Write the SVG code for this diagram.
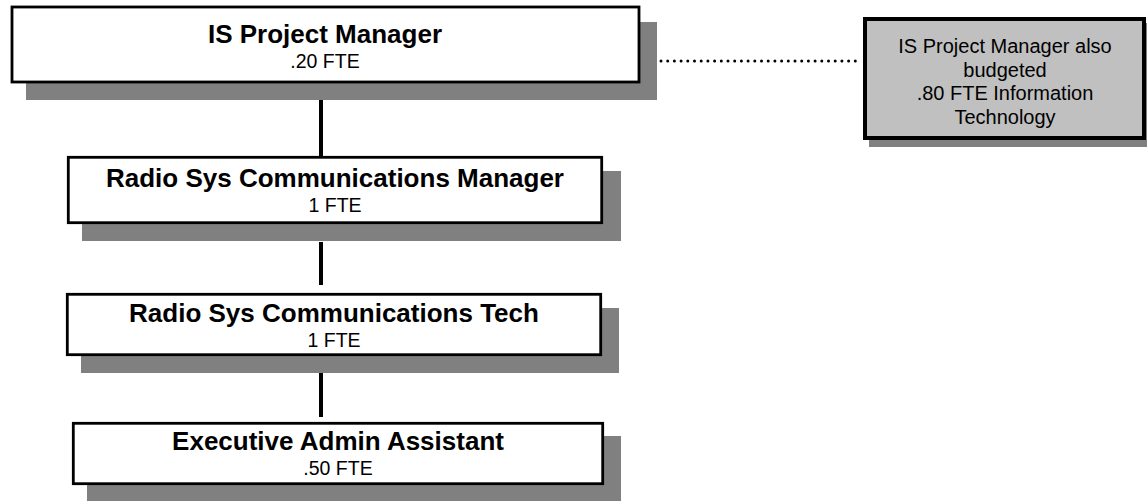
<svg xmlns="http://www.w3.org/2000/svg" width="1147" height="501" viewBox="0 0 1147 501">
<style>
.shadow{fill:#808080;stroke:none}
.box{fill:#ffffff;stroke:#000000;stroke-width:2.8}
.note{fill:#c0c0c0;stroke:#000000;stroke-width:4}
.title{font-family:"Liberation Sans",Arial,sans-serif;font-weight:bold;font-size:26px;fill:#000;text-anchor:middle}
.sub{font-family:"Liberation Sans",Arial,sans-serif;font-size:19.5px;fill:#000;text-anchor:middle}
.ntext{font-family:"Liberation Sans",Arial,sans-serif;font-size:20px;fill:#000;text-anchor:middle}
.conn{stroke:#000;stroke-width:4;fill:none}
.dot{stroke:#000;stroke-width:3;fill:none;stroke-linecap:round;stroke-dasharray:0 6.7}
</style>
<rect width="1147" height="501" fill="#ffffff"/>
<g id="connectors">
<line class="conn" x1="321" y1="100" x2="321" y2="156"/>
<line class="conn" x1="321" y1="242" x2="321" y2="285"/>
<line class="conn" x1="321" y1="373" x2="321" y2="417"/>
<line class="dot" x1="661" y1="61" x2="861" y2="61"/>
</g>
<g id="is-project-manager">
<rect class="shadow" x="26" y="22" width="631" height="78"/>
<rect class="box" x="12" y="7" width="627" height="75"/>
<text class="title" x="325" y="43">IS Project Manager</text>
<text class="sub" x="325" y="68">.20 FTE</text>
</g>
<g id="note">
<rect class="shadow" x="869" y="23" width="282" height="124"/>
<rect class="note" x="865" y="19" width="279" height="119"/>
<text class="ntext" x="1005" y="53">IS Project Manager also</text>
<text class="ntext" x="1005" y="76.5">budgeted</text>
<text class="ntext" x="1005" y="100">.80 FTE Information</text>
<text class="ntext" x="1005" y="123.5">Technology</text>
</g>
<g id="radio-sys-comm-manager">
<rect class="shadow" x="82" y="171" width="539" height="70"/>
<rect class="box" x="68.3" y="157.3" width="533.4" height="65.4"/>
<text class="title" x="335" y="187">Radio Sys Communications Manager</text>
<text class="sub" x="335" y="212">1 FTE</text>
</g>
<g id="radio-sys-comm-tech">
<rect class="shadow" x="81" y="308" width="538" height="65"/>
<rect class="box" x="67.3" y="294.3" width="533.4" height="60.4"/>
<text class="title" x="334" y="322">Radio Sys Communications Tech</text>
<text class="sub" x="334" y="347">1 FTE</text>
</g>
<g id="executive-admin-assistant">
<rect class="shadow" x="87" y="436" width="534" height="65"/>
<rect class="box" x="73.3" y="423.3" width="529.4" height="60.4"/>
<text class="title" x="338" y="450">Executive Admin Assistant</text>
<text class="sub" x="338" y="475">.50 FTE</text>
</g>
</svg>
